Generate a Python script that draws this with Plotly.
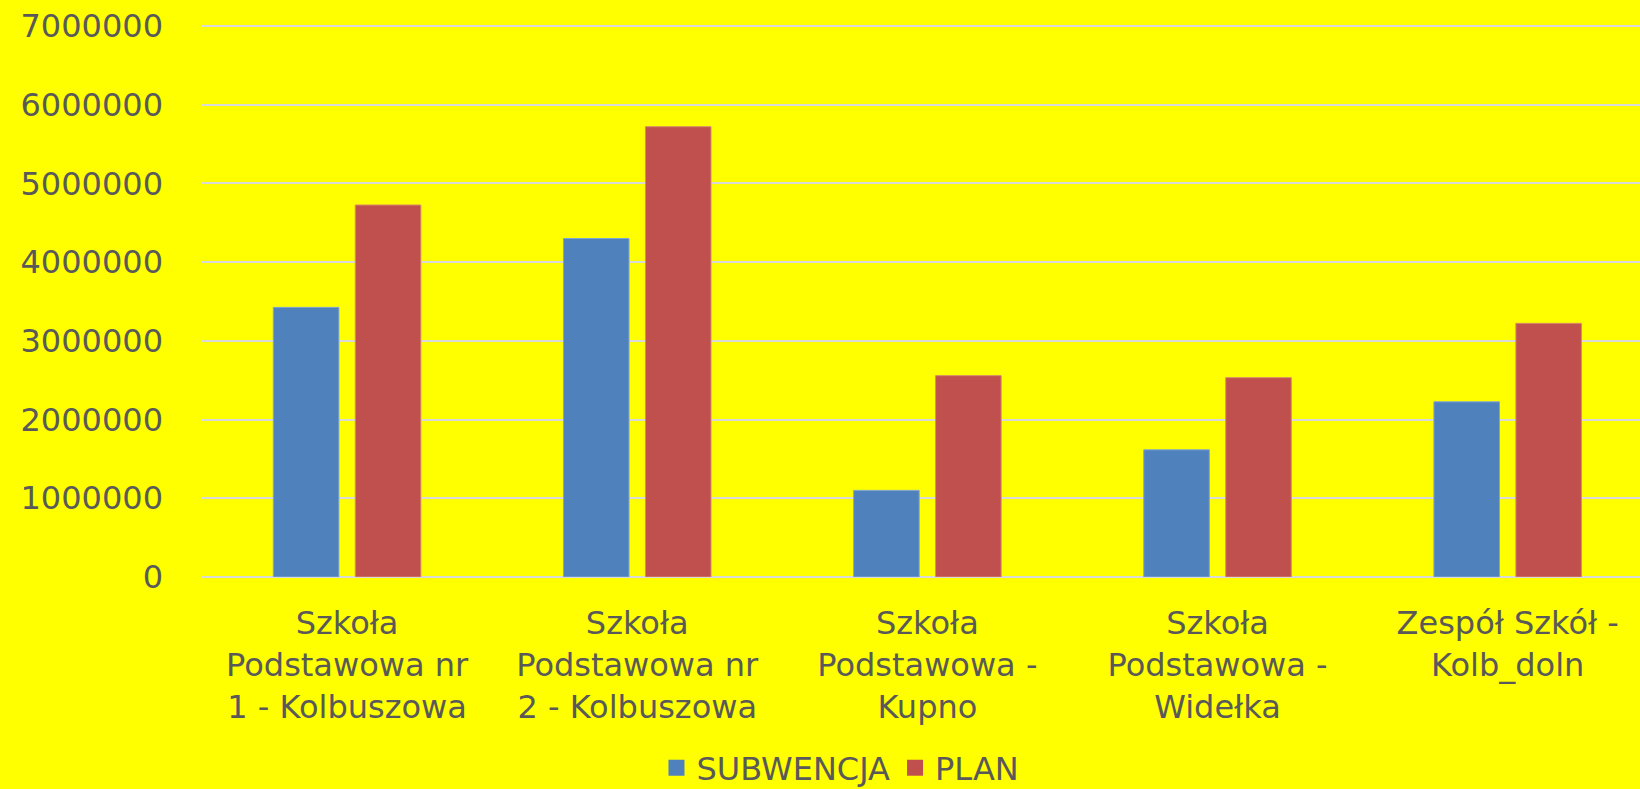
import plotly.graph_objects as go

schools = ['Szkoła<br>Podstawowa nr<br>1 - Kolbuszowa',
           'Szkoła<br>Podstawowa nr<br>2 - Kolbuszowa',
           'Szkoła<br>Podstawowa -<br>Kupno',
           'Szkoła<br>Podstawowa -<br>Widełka',
           'Zespół Szkół -<br>Kolb_doln']
subwencja = [3425000, 4300000, 1100000, 1615000, 2225000]
plan = [4725000, 5720000, 2558000, 2532000, 3222000]
ytick_vals = [0, 1000000, 2000000, 3000000, 4000000, 5000000, 6000000, 7000000]

font_gray = '#595959'
blue = '#4f81bd'
red = '#c0504d'

fig = go.Figure()
fig.add_trace(go.Bar(x=schools, y=subwencja, name='SUBWENCJA', showlegend=False,
                     marker=dict(color=blue, line=dict(color='#7fa4d4', width=1))))
fig.add_trace(go.Bar(x=schools, y=plan, name='PLAN', showlegend=False,
                     marker=dict(color=red, line=dict(color='#d68a6a', width=1))))
# legend entries with bigger square swatches
for nm, col in [('SUBWENCJA', blue), ('PLAN', red)]:
    fig.add_trace(go.Scatter(x=[None], y=[None], mode='markers', name=nm,
                             marker=dict(symbol='square', size=22, color=col)))

fig.update_layout(
    width=1640, height=789,
    margin=dict(l=202, r=0, t=22, b=212, autoexpand=False),
    plot_bgcolor='#ffff00', paper_bgcolor='#ffff00',
    font=dict(family='DejaVu Sans', size=32, color=font_gray),
    barmode='group', bargap=0.435, bargroupgap=0.2,
    showlegend=True,
    legend=dict(orientation='h', x=0.444, xanchor='center', y=-0.344, yanchor='middle',
                font=dict(size=32, color=font_gray), itemwidth=30,
                bgcolor='rgba(0,0,0,0)'),
)
fig.update_xaxes(range=[-0.5, 4.456], showgrid=False, showline=False, zeroline=False,
                 ticks='outside', ticklen=18, tickcolor='rgba(0,0,0,0)', tickangle=0,
                 automargin=False)
fig.update_yaxes(range=[0, 7050000], tickvals=ytick_vals, tickformat='d',
                 showgrid=True, gridcolor='#d9d9d9', gridwidth=2,
                 zeroline=True, zerolinecolor='#d9d9d9', zerolinewidth=2,
                 showline=False, ticklabelstandoff=38, automargin=False)

fig.write_html("out.html", config={'displayModeBar': False},
               post_script="document.body.style.margin='0';")
